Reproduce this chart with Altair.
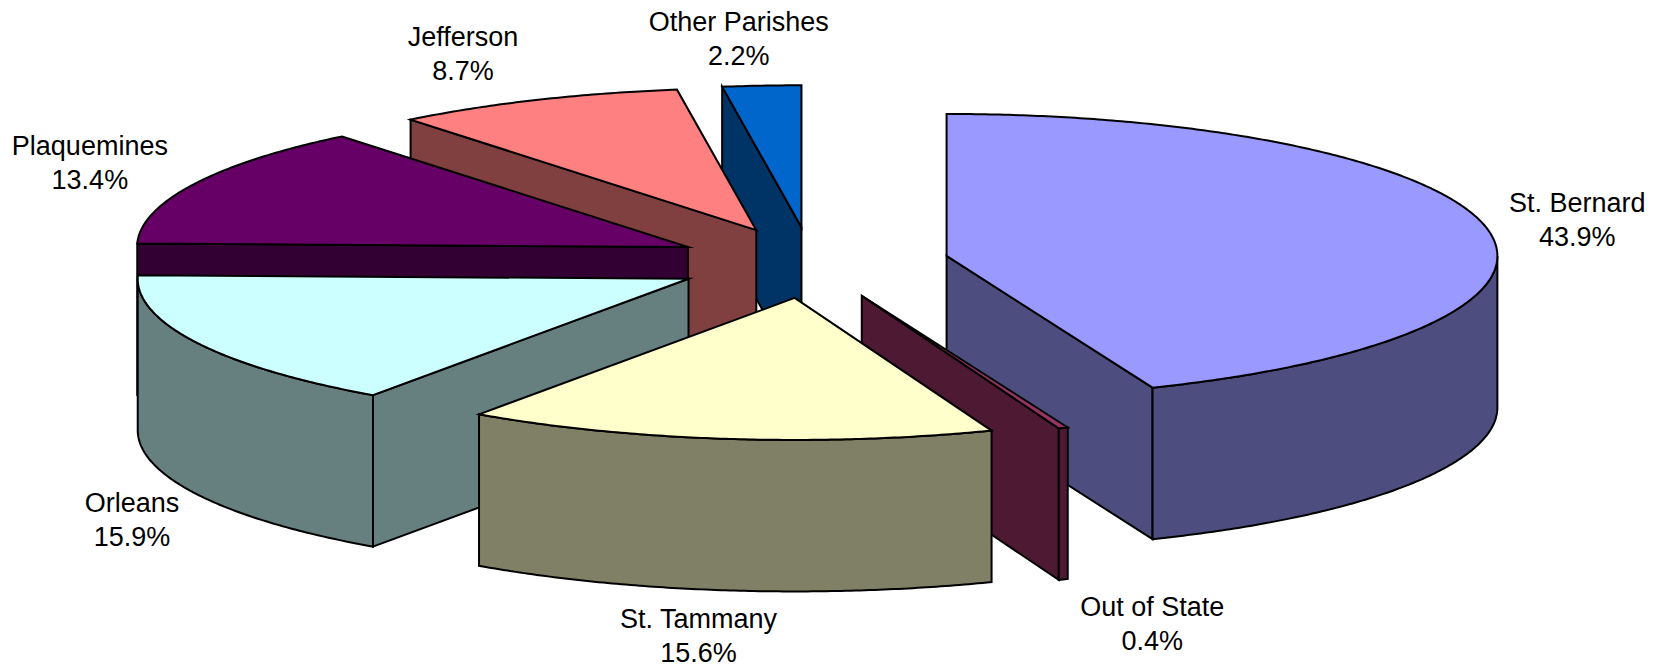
import math
import pandas as pd
import altair as alt

names = ["St. Bernard", "Out of State", "St. Tammany", "Orleans", "Plaquemines", "Jefferson", "Other Parishes"]
# slice sizes as drawn in the picture (read from the slice edges)
sizes = [43.9, 0.28, 15.53, 15.67, 13.82, 8.5, 2.3]
# percentages as printed on the labels
printed = ["43.9%", "0.4%", "15.6%", "15.9%", "13.4%", "8.7%", "2.2%"]
top_colors = ["#9999FF", "#993366", "#FFFFCC", "#CCFFFF", "#660066", "#FF8080", "#0066CC"]
side_colors = ["#4D4D80", "#4D1933", "#808066", "#668080", "#330033", "#804040", "#003366"]
draw_order = ["Other Parishes", "Jefferson", "Plaquemines", "St. Bernard", "Out of State", "Orleans", "St. Tammany"]
label_shift = {
    "St. Bernard": (90, -25), "Out of State": (89, 180), "St. Tammany": (-29, 181),
    "Orleans": (-65, 161), "Plaquemines": (-104, -37), "Jefferson": (-73, -62),
    "Other Parishes": (-23, -63),
}

CX, CY, RX, RY, DEPTH, EXPLODE = 811.4, 262.7, 550.8, 142.0, 151.5, 0.25
W, H, M = 1645, 660, 8
x_scale = alt.Scale(domain=[M, M + W], nice=False, zero=False)
y_scale = alt.Scale(domain=[M + H, M], nice=False, zero=False)


def rim(ox, oy, t):
    r = math.radians(t)
    return ox + RX * math.sin(r), oy - RY * math.cos(r)


def arc_pts(ox, oy, t0, t1):
    n = max(2, int(abs(t1 - t0) * 2) + 1)
    return [rim(ox, oy, t0 + (t1 - t0) * i / (n - 1)) for i in range(n)]


def poly_layer(pts, color):
    df = pd.DataFrame({"x": [p[0] for p in pts], "y": [p[1] for p in pts], "i": range(len(pts))})
    return alt.Chart(df).mark_line(
        interpolate="linear-closed", fill=color, stroke="black", strokeWidth=2,
        strokeJoin="miter", strokeMiterLimit=20,
    ).encode(
        x=alt.X("x:Q", scale=x_scale, axis=None),
        y=alt.Y("y:Q", scale=y_scale, axis=None),
        order="i:Q",
    )


slices = {}
cum = 0.0
total = sum(sizes)
for n, s, tc, sc, p in zip(names, sizes, top_colors, side_colors, printed):
    t0 = cum / total * 360
    cum += s
    t1 = cum / total * 360
    slices[n] = (t0, t1, tc, sc, p)

layers = []
label_rows = []
for n in draw_order:
    t0, t1, tc, sc, p = slices[n]
    mid = math.radians((t0 + t1) / 2)
    ox = CX + EXPLODE * RX * math.sin(mid)
    oy = CY - EXPLODE * RY * math.cos(mid)
    # visible cut faces
    for t, visible in ((t0, math.sin(math.radians(t0)) < -1e-6), (t1, math.sin(math.radians(t1)) > 1e-6)):
        if visible:
            px, py = rim(ox, oy, t)
            layers.append(poly_layer([(ox, oy), (px, py), (px, py + DEPTH), (ox, oy + DEPTH)], sc))
    # outer wall (front half of the rim)
    a, b = max(t0, 90), min(t1, 270)
    if a < b:
        arc = arc_pts(ox, oy, a, b)
        low = [(x, y + DEPTH) for x, y in reversed(arc)]
        layers.append(poly_layer(arc + low, sc))
    # top face
    layers.append(poly_layer([(ox, oy)] + arc_pts(ox, oy, t0, t1), tc))
    dx, dy = label_shift[n]
    mx, my = rim(ox, oy, (t0 + t1) / 2)
    label_rows.append({"x": mx + dx, "y": my + dy, "t": f"{n}\n{p}"})

labels = alt.Chart(pd.DataFrame(label_rows)).mark_text(
    font="Liberation Sans", fontSize=27, color="black", lineBreak="\n", lineHeight=34,
    align="center", baseline="middle",
).encode(
    x=alt.X("x:Q", scale=x_scale, axis=None),
    y=alt.Y("y:Q", scale=y_scale, axis=None),
    text="t:N",
)

chart = alt.layer(*layers, labels).properties(
    width=W, height=H, padding=0, background="white", autosize=alt.AutoSizeParams(type="none"),
).configure_view(stroke=None)

chart.save("out.html", embed_options={"renderer": "svg", "actions": False})
